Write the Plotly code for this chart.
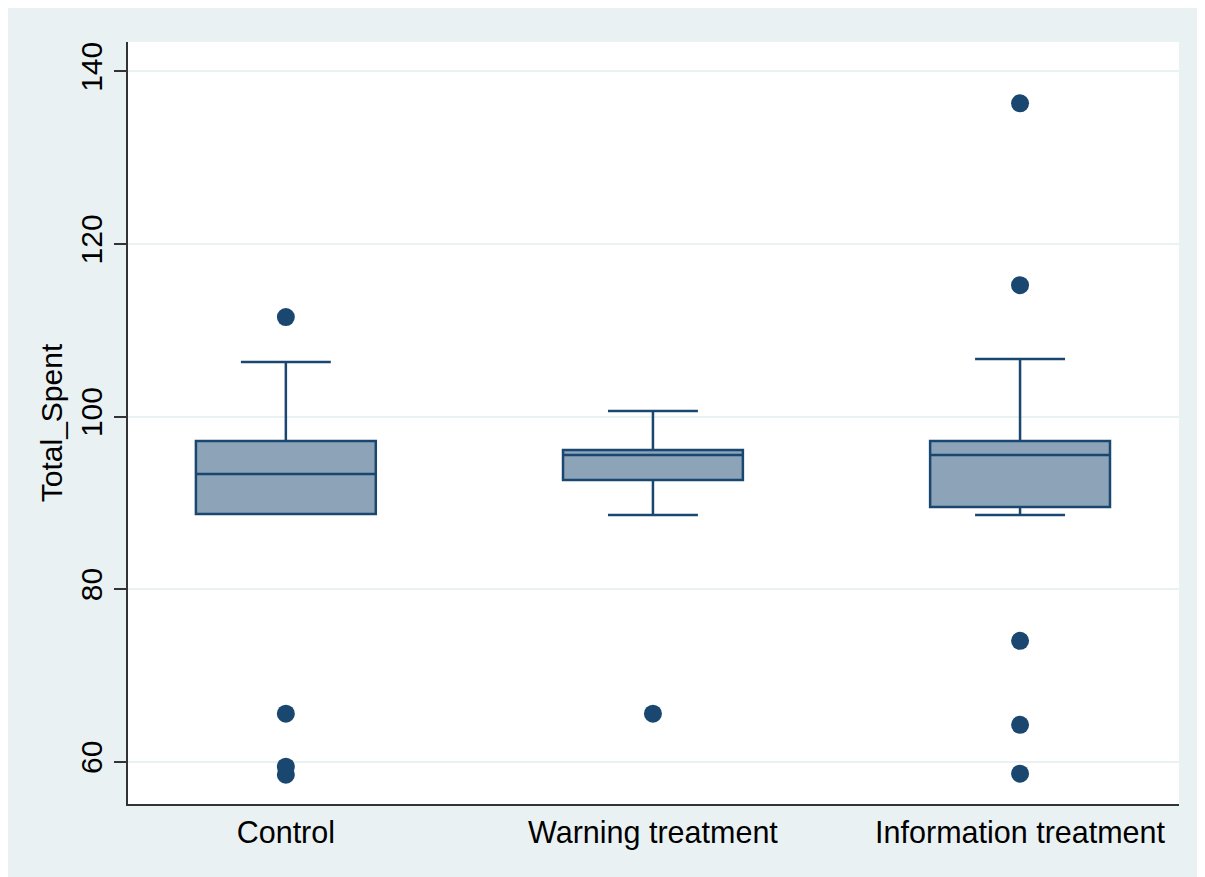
import plotly.graph_objects as go

categories = ["Control", "Warning treatment", "Information treatment"]
lower_whisker = [88.71, 88.60, 88.60]
q1 = [88.71, 92.65, 89.52]
median = [93.34, 95.54, 95.54]
q3 = [97.16, 96.12, 97.16]
upper_whisker = [106.31, 100.64, 106.66]

outlier_groups = ["Control", "Control", "Control", "Control",
                  "Warning treatment",
                  "Information treatment", "Information treatment", "Information treatment",
                  "Information treatment", "Information treatment"]
outlier_values = [111.52, 65.56, 59.42, 58.50,
                  65.56,
                  136.30, 115.22, 74.01, 64.28, 58.61]

y_ticks = [60, 80, 100, 120, 140]

NAVY = "#1A476F"
FILL = "#8DA3B8"
BG = "#EAF1F3"
FONT = "Liberation Sans, Arial, Helvetica, sans-serif"

fig = go.Figure()
fig.add_trace(go.Box(
    x=categories, q1=q1, median=median, q3=q3,
    lowerfence=lower_whisker, upperfence=upper_whisker,
    fillcolor=FILL, line=dict(color=NAVY, width=2.5),
    width=0.49, whiskerwidth=0.5, boxpoints=False,
    hoverinfo="skip", showlegend=False,
))
fig.add_trace(go.Scatter(
    x=outlier_groups, y=outlier_values, mode="markers",
    marker=dict(color=NAVY, size=18),
    hoverinfo="skip", showlegend=False,
))

fig.update_layout(
    width=1197, height=869,
    margin=dict(l=120, r=26, t=34, b=73, pad=0),
    paper_bgcolor=BG, plot_bgcolor="white",
    font=dict(family=FONT, size=30, color="black"),
)
fig.update_xaxes(
    type="category", categoryorder="array", categoryarray=categories,
    range=[-0.43, 2.433], showgrid=False, zeroline=False,
    showline=True, linecolor="#333333", linewidth=2,
    ticks="", tickfont=dict(size=30.5),
)
fig.update_yaxes(
    range=[55.1, 143.4], tickvals=y_ticks, tickangle=-90,
    showgrid=True, gridcolor=BG, gridwidth=2, zeroline=False,
    showline=True, linecolor="#333333", linewidth=2,
    ticks="outside", ticklen=12, tickwidth=2, tickcolor="#333333",
    tickfont=dict(size=30),
    title=dict(text="Total_Spent", font=dict(size=30), standoff=4),
)

fig.write_html("out.html")
